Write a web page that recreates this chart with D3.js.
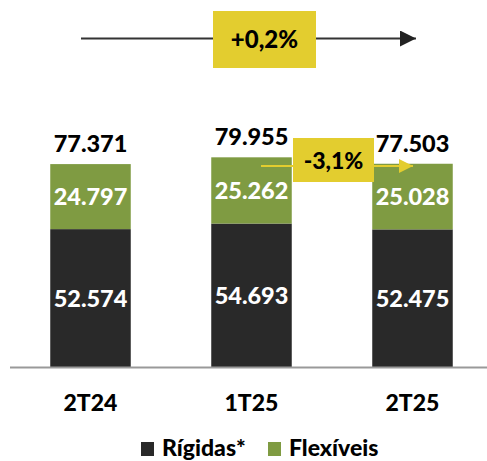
<!DOCTYPE html>
<html><head><meta charset="utf-8">
<script src="https://cdn.jsdelivr.net/npm/d3@7/dist/d3.min.js"></script>
<style>body{margin:0;background:#fff}svg{display:block}text{font-family:Lato,"Open Sans",sans-serif;font-weight:900}</style>
</head><body><svg id="c" width="487" height="461"></svg>
<script>
const categories = ["2T24", "1T25", "2T25"];
const rigidas = [52574, 54693, 52475];
const flexiveis = [24797, 25262, 25028];
const totals = [77371, 79955, 77503];
const seriesNames = ["Rígidas*", "Flexíveis"];
const changeTop = "+0,2%";
const changeMid = "-3,1%";

const W = 487, H = 461;
const colors = {"Rígidas*": "#292929", "Flexíveis": "#7F9B42"};
const yellow = "#E3CD2F";
const svg = d3.select("#c");
const fmt = v => d3.format(",")(v).replace(/,/g, ".");

const x = d3.scaleBand().domain(categories).range([10, 493]).paddingInner(0.5).paddingOuter(0.25);
const y = d3.scaleLinear().domain([0, 80000]).range([367, 157.2]);

const data = categories.map((c, i) => ({cat: c, "Rígidas*": rigidas[i], "Flexíveis": flexiveis[i], total: totals[i]}));
const stack = d3.stack().keys(seriesNames)(data);

svg.append("g").selectAll("g").data(stack).join("g")
  .attr("fill", d => colors[d.key])
  .selectAll("rect").data(d => d).join("rect")
  .attr("x", d => x(d.data.cat)).attr("width", x.bandwidth())
  .attr("y", d => y(d[1])).attr("height", d => y(d[0]) - y(d[1]));

// axis line
svg.append("line").attr("x1", 10).attr("x2", 487).attr("y1", 367.5).attr("y2", 367.5)
  .attr("stroke", "#999").attr("stroke-width", 2);

// segment labels
stack.forEach(s => {
  svg.append("g").selectAll("text").data(s).join("text")
    .attr("x", d => x(d.data.cat) + x.bandwidth() / 2)
    .attr("y", d => (y(d[0]) + y(d[1])) / 2)
    .attr("dy", "0.36em").attr("text-anchor", "middle")
    .attr("fill", "#fff").attr("font-size", 23.5)
    .text(d => fmt(d[1] - d[0]));
});

// totals
svg.append("g").selectAll("text").data(data).join("text")
  .attr("x", d => x(d.cat) + x.bandwidth() / 2)
  .attr("y", d => y(d.total) - 12)
  .attr("text-anchor", "middle").attr("fill", "#000").attr("font-size", 23.5)
  .text(d => fmt(d.total));

// category labels
svg.append("g").selectAll("text").data(categories).join("text")
  .attr("x", d => x(d) + x.bandwidth() / 2).attr("y", 411)
  .attr("text-anchor", "middle").attr("fill", "#000").attr("font-size", 23)
  .text(d => d);

// top arrow
const defs = svg.append("defs");
defs.append("marker").attr("id", "ah").attr("viewBox", "0 0 10 10").attr("refX", 10).attr("refY", 5)
  .attr("markerWidth", 16).attr("markerHeight", 16).attr("markerUnits", "userSpaceOnUse").attr("orient", "auto")
  .append("path").attr("d", "M0,0L10,5L0,10Z").attr("fill", "#222");
defs.append("marker").attr("id", "ay").attr("viewBox", "0 0 10 10").attr("refX", 10).attr("refY", 5)
  .attr("markerWidth", 16).attr("markerHeight", 14).attr("markerUnits", "userSpaceOnUse").attr("orient", "auto")
  .append("path").attr("d", "M0,0L10,5L0,10Z").attr("fill", yellow);

svg.append("line").attr("x1", 81).attr("x2", 416).attr("y1", 38.5).attr("y2", 38.5)
  .attr("stroke", "#333").attr("stroke-width", 2).attr("marker-end", "url(#ah)");
svg.append("rect").attr("x", 213).attr("y", 11).attr("width", 103).attr("height", 57).attr("fill", yellow);
svg.append("text").attr("x", 264.5).attr("y", 39.5).attr("dy", "0.36em").attr("text-anchor", "middle")
  .attr("font-size", 24).attr("fill", "#000").text(changeTop);

// middle arrow
svg.append("line").attr("x1", 261).attr("x2", 413).attr("y1", 166).attr("y2", 166)
  .attr("stroke", yellow).attr("stroke-width", 2).attr("marker-end", "url(#ay)");
svg.append("rect").attr("x", 293).attr("y", 138).attr("width", 81).attr("height", 44).attr("fill", yellow);
svg.append("text").attr("x", 333.5).attr("y", 161).attr("dy", "0.36em").attr("text-anchor", "middle")
  .attr("font-size", 23).attr("fill", "#000").text(changeMid);

// legend
const leg = [{k: "Rígidas*", x: 141}, {k: "Flexíveis", x: 268}];
const lg = svg.append("g").selectAll("g").data(leg).join("g").attr("transform", d => `translate(${d.x},442)`);
lg.append("rect").attr("width", 13).attr("height", 14).attr("fill", d => colors[d.k]);
lg.append("text").attr("x", 21).attr("y", 6).attr("dy", "0.36em").attr("font-size", 23).attr("fill", "#000").text(d => d.k);
</script></body></html>
